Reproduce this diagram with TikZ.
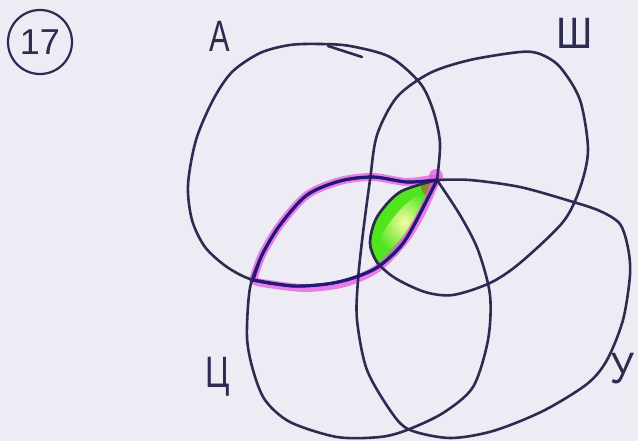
\documentclass[tikz,border=0pt]{standalone}
\usepackage{fontspec}
\setmainfont{Liberation Sans}
\definecolor{bg}{RGB}{237,236,245}
\definecolor{ink}{RGB}{45,44,80}
\definecolor{ink2}{RGB}{38,22,120}
\definecolor{glow}{RGB}{228,90,228}
\definecolor{limeg}{RGB}{80,230,30}
\definecolor{edgeg}{RGB}{30,110,40}
\definecolor{yel}{RGB}{248,252,160}
\definecolor{tip}{RGB}{160,110,50}
\begin{document}
\begin{tikzpicture}[x=1pt,y=-1pt,
  curve/.style={draw=ink, line width=2.6pt, line join=round, line cap=round},
  lbl/.style={text=ink, font=\fontsize{44}{44}\selectfont, inner sep=0pt}]
\fill[bg] (0,0) rectangle (638,441);
\useasboundingbox (0,0) rectangle (638,441);

% green region (all four)
\begin{scope}
\clip plot[smooth] coordinates {(437,180) (400,192) (377,217) (370,243) (378,265)}
  -- plot[smooth] coordinates {(378,265) (395,256) (412,232) (426,205) (437,180)} -- cycle;
\fill[limeg] (340,160) rectangle (460,290);
\shade[rotate around={50:(404,222)}, inner color=yel, outer color=limeg] (404,222) ellipse (38 and 11);
\fill[tip, opacity=0.8] (430,187) circle (9);
\end{scope}
\draw[edgeg, line width=2.2pt] plot[smooth] coordinates {(437,180) (400,192) (377,217) (370,243) (378,265)};

% magenta glow around the lens
\draw[glow, opacity=0.75, line width=8pt, line cap=round, line join=round]
  plot[smooth] coordinates {(253,280) (262,255) (280,225) (307,195) (340,181) (373,177) (407,182) (437,178)}
  -- plot[smooth] coordinates {(437,178) (422,212) (405,240) (378,268) (345,283) (305,288) (262,283) (253,280)};
\fill[glow, opacity=0.75] (436,176) circle (7);

% curve A
\draw[curve] plot[smooth] coordinates {(437,180) (440,143) (433,110) (420,83) (390,57) (350,46) (320,44) (290,45) (260,53) (232,72) (213,100) (196,140) (188,185) (192,220) (205,247) (227,267) (253,280) (293,286) (327,284) (353,278) (378,267) (400,247) (413,227) (437,180)};
\draw[curve] (328,46) -- (362,57);

% curve Ts
\draw[curve] plot[smooth] coordinates {(437,180) (407,182) (373,177) (340,181) (307,195) (280,225) (262,255) (250,288) (247,337) (253,370) (265,400) (290,422) (337,437) (380,437) (407,430) (443,413) (473,387) (488,340) (490,295) (478,250) (460,215) (437,180)};

% curves Sh and U (one continuous stroke)
\draw[curve] plot[smooth] coordinates {(437,180) (470,180) (520,187) (570,201) (600,211) (620,224) (628,248) (630,275) (623,320) (607,360) (587,384) (543,411) (493,431) (450,438) (410,430) (392,413) (367,370) (357,320) (358,280) (363,233) (370,180) (377,135) (397,97) (430,73) (470,60) (520,52) (540,54) (560,67) (580,100) (588,150) (580,188) (563,222) (520,263) (490,283) (453,295) (425,292) (395,278) (377,262) (370,243) (377,217) (400,192) (437,180)};

% bold lens outline
\draw[ink2, line width=3.2pt, line cap=round]
  plot[smooth] coordinates {(253,280) (262,255) (280,225) (307,195) (340,181) (373,177) (407,182) (437,180)};
\draw[ink2, line width=3.2pt, line cap=round]
  plot[smooth] coordinates {(253,280) (293,286) (327,284) (353,278) (378,267) (400,247) (413,227) (437,180)};

% labels
\node[lbl, xscale=0.7] (lA) at (220,36) {А};
\node[lbl, xscale=0.9] (lSh) at (575,33) {Ш};
\node[lbl, xscale=0.75] (lTs) at (218,377) {Ц};
\node[lbl, xscale=0.85] (lU) at (622,369) {У};
\node[draw=ink, line width=2.2pt, circle, minimum size=64pt, inner sep=0pt, text=ink,
  font=\fontsize{36}{36}\selectfont] (n17) at (40,42) {17};
\end{tikzpicture}
\end{document}
